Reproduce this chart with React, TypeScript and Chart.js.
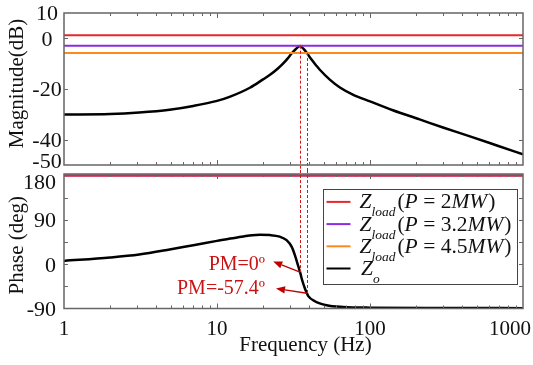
import { useEffect, useRef } from "react";
import { Chart, registerables } from "chart.js";

Chart.register(...registerables);

// ---------------- data ----------------
const magFreqHz = [1, 2, 3.1, 4.9, 7, 10, 12.2, 16.4, 20, 22.2, 25, 27.1, 29, 30.8, 32.5, 34.9, 36.8, 38.7, 41, 44.8, 47, 54.6, 63.6, 77.8, 100, 141, 211, 300, 450, 675, 1000];
const magDb = [-30.1, -29.9, -29.3, -28.2, -26.7, -24.7, -23.0, -19.5, -16.2, -14.4, -11.9, -9.9, -7.9, -5.9, -4.4, -3.0, -4.2, -5.8, -8.0, -10.9, -12.4, -16.3, -19.4, -22.3, -24.9, -28.4, -32.0, -35.2, -38.7, -42.3, -45.8];
const phaseFreqHz = [1, 2, 3.1, 4.9, 7, 10, 12.2, 14.9, 17, 19.1, 22.2, 25.7, 28.5, 30.8, 32.4, 34, 34.9, 35.8, 37.6, 38.7, 39.5, 43.6, 52, 66.6, 100, 300, 1000];
const phaseDeg = [6.7, 13.6, 19.7, 29.9, 38.7, 47.4, 52.3, 56.5, 59.0, 59.8, 59.2, 56.0, 48.9, 35.2, 17, -4.6, -16, -29.5, -49.8, -59, -64.8, -75.3, -83.3, -86.8, -88.3, -89, -89.3];
const loadPowerMW = ["2", "3.2", "4.5"];
const loadMagDb = [1.2, -2.9, -5.8];
const loadPhaseDeg = [180, 180, 180];

const freqMin = 1;
const freqMax = 1000;
const magMin = -50;
const magMax = 10;
const phaseMin = -90;
const phaseMax = 183.3;

const freqTickLabels = [1, 10, 100, 1000];
const magTickLabels = [10, 0, -20, -40, -50];
const magTickMarks = [0, -20, -40];
const phaseTickLabels = [180, 90, 0, -90];
const phaseTickMarks = [135, 90, 45, 0, -45];

const crossFreqHz = [34.9, 38.7];
const crossMagDb = [-2.9, -5.8];
const crossPhaseDeg = [-16, -59];
const pmTexts = ["PM=0º", "PM=-57.4º"];
const pmTextFreqHz = [20.6, 20.6];
const pmTextDeg = [1.4, -46];
const pmHeadFreqHz = [23.3, 24.3];
const pmHeadDeg = [5.3, -49.3];

// ---------------- styles ----------------
const loadColors = ["#e8262b", "#8b2be2", "#ff8a1c"];
const SERIF = "'Liberation Serif', 'Times New Roman', serif";
const FRAME = "#666666";
const RED = "#c81414";
const DASH_RED = "#d01818";

type Seg = { t: string; it?: boolean; size: number; dx?: number; dy?: number };

function drawRich(ctx: CanvasRenderingContext2D, x: number, baseline: number, segs: Seg[]) {
  let cx = x;
  for (const s of segs) {
    ctx.font = `${s.it ? "italic " : ""}${s.size}px ${SERIF}`;
    cx += s.dx || 0;
    ctx.fillText(s.t, cx, baseline + (s.dy || 0));
    cx += ctx.measureText(s.t).width;
  }
}

function drawFrameTicks(chart: any, yMarks: number[]) {
  const ctx = chart.ctx as CanvasRenderingContext2D;
  const { left, right, top, bottom } = chart.chartArea;
  const xs = chart.scales.x;
  const ys = chart.scales.y;
  ctx.save();
  ctx.strokeStyle = FRAME;
  ctx.lineWidth = 1;
  ctx.setLineDash([]);
  ctx.beginPath();
  for (let d = 1; d < freqMax; d *= 10) {
    for (let m = 1; m <= 9; m++) {
      const f = m * d;
      if (f <= freqMin || f >= freqMax) continue;
      const px = Math.round(xs.getPixelForValue(f)) + 0.5;
      const len = m === 1 ? 5 : 3;
      ctx.moveTo(px, top);
      ctx.lineTo(px, top + len);
      ctx.moveTo(px, bottom);
      ctx.lineTo(px, bottom - len);
    }
  }
  yMarks.forEach((v) => {
    const py = Math.round(ys.getPixelForValue(v)) + 0.5;
    ctx.moveTo(left, py);
    ctx.lineTo(left + 4, py);
    ctx.moveTo(right, py);
    ctx.lineTo(right - 4, py);
  });
  ctx.stroke();
  ctx.lineWidth = 1.5;
  ctx.strokeRect(left, top, right - left, bottom - top);
  ctx.restore();
}

const magDecor = {
  id: "magDecor",
  afterDraw(chart: any) {
    const ctx = chart.ctx as CanvasRenderingContext2D;
    const { left, top, bottom } = chart.chartArea;
    const xs = chart.scales.x;
    const ys = chart.scales.y;
    ctx.save();
    ctx.strokeStyle = DASH_RED;
    ctx.lineWidth = 1;
    ctx.setLineDash([3, 2]);
    crossFreqHz.forEach((f, i) => {
      const px = Math.round(xs.getPixelForValue(f)) + 0.5;
      ctx.beginPath();
      ctx.moveTo(px, ys.getPixelForValue(crossMagDb[i]));
      ctx.lineTo(px, bottom + 5);
      ctx.stroke();
    });
    ctx.setLineDash([]);
    ctx.restore();

    drawFrameTicks(chart, magTickMarks);

    ctx.save();
    ctx.fillStyle = "#111";
    ctx.font = `22px ${SERIF}`;
    ctx.textAlign = "center";
    ctx.textBaseline = "alphabetic";
    magTickLabels.forEach((v) => {
      let py = ys.getPixelForValue(v);
      if (py > bottom - 2) py = bottom - 4;
      ctx.fillText(String(v), left - 17, py + 7.3);
    });
    ctx.font = `21px ${SERIF}`;
    ctx.textBaseline = "middle";
    ctx.translate(17, (top + bottom) / 2 - 5.5);
    ctx.rotate(-Math.PI / 2);
    ctx.fillText("Magnitude(dB)", 0, 0);
    ctx.restore();
  },
};

const phaseDecor = {
  id: "phaseDecor",
  afterDraw(chart: any) {
    const ctx = chart.ctx as CanvasRenderingContext2D;
    const { left, right, top, bottom } = chart.chartArea;
    const xs = chart.scales.x;
    const ys = chart.scales.y;
    ctx.save();
    ctx.strokeStyle = DASH_RED;
    ctx.lineWidth = 1;
    ctx.setLineDash([3, 2]);
    crossFreqHz.forEach((f, i) => {
      const px = Math.round(xs.getPixelForValue(f)) + 0.5;
      ctx.beginPath();
      ctx.moveTo(px, top - 4);
      ctx.lineTo(px, ys.getPixelForValue(crossPhaseDeg[i]));
      ctx.stroke();
    });
    ctx.setLineDash([]);

    // PM arrows
    ctx.strokeStyle = "#c00000";
    ctx.fillStyle = "#c00000";
    ctx.lineWidth = 1.3;
    crossFreqHz.forEach((f, i) => {
      const x0 = xs.getPixelForValue(f);
      const y0 = ys.getPixelForValue(crossPhaseDeg[i]);
      const x1 = xs.getPixelForValue(pmHeadFreqHz[i]);
      const y1 = ys.getPixelForValue(pmHeadDeg[i]);
      const ang = Math.atan2(y1 - y0, x1 - x0);
      const hl = 9;
      const hw = 3.6;
      const bx = x1 - hl * Math.cos(ang);
      const by = y1 - hl * Math.sin(ang);
      ctx.beginPath();
      ctx.moveTo(x0, y0);
      ctx.lineTo(bx, by);
      ctx.stroke();
      ctx.beginPath();
      ctx.moveTo(x1, y1);
      ctx.lineTo(bx + hw * Math.sin(ang), by - hw * Math.cos(ang));
      ctx.lineTo(bx - hw * Math.sin(ang), by + hw * Math.cos(ang));
      ctx.closePath();
      ctx.fill();
    });

    // PM texts
    ctx.fillStyle = RED;
    ctx.font = `20px ${SERIF}`;
    ctx.textAlign = "right";
    ctx.textBaseline = "alphabetic";
    pmTexts.forEach((t, i) => {
      ctx.fillText(t, xs.getPixelForValue(pmTextFreqHz[i]), ys.getPixelForValue(pmTextDeg[i]) + 6.8);
    });
    ctx.restore();

    drawFrameTicks(chart, phaseTickMarks);

    // Legend
    ctx.save();
    const boxW = 194;
    const boxH = 95;
    const bx = right - 6 - boxW;
    const by = top + 14.5;
    ctx.fillStyle = "#ffffff";
    ctx.fillRect(bx, by, boxW, boxH);
    ctx.strokeStyle = "#444";
    ctx.lineWidth = 1;
    ctx.strokeRect(Math.round(bx) + 0.5, Math.round(by) + 0.5, boxW, boxH);
    const rowY = (k: number) => by + 13.4 + k * 22.2;
    const legendColors = [...loadColors, "#000000"];
    legendColors.forEach((c, k) => {
      ctx.strokeStyle = c;
      ctx.lineWidth = 2;
      ctx.beginPath();
      ctx.moveTo(bx + 3.5, rowY(k));
      ctx.lineTo(bx + 27.5, rowY(k));
      ctx.stroke();
    });
    ctx.fillStyle = "#111";
    ctx.textAlign = "left";
    ctx.textBaseline = "alphabetic";
    loadPowerMW.forEach((p, k) => {
      drawRich(ctx, bx + 36.5, rowY(k) + 6.5, [
        { t: "Z", it: true, size: 21.5 },
        { t: "load", it: true, size: 13.5, dy: 8 },
        { t: "(", size: 21.5, dx: 2 },
        { t: "P", it: true, size: 21.5 },
        { t: " = ", size: 21.5 },
        { t: p, size: 21.5 },
        { t: "MW", it: true, size: 21.5 },
        { t: ")", size: 21.5, dx: 1 },
      ]);
    });
    drawRich(ctx, bx + 38, rowY(3) + 6.5, [
      { t: "Z", it: true, size: 21.5 },
      { t: "o", it: true, size: 13.5, dy: 8 },
    ]);

    // Y tick labels
    ctx.fillStyle = "#111";
    ctx.font = `22px ${SERIF}`;
    ctx.textAlign = "right";
    phaseTickLabels.forEach((v) => {
      let py = ys.getPixelForValue(v);
      if (py < top + 6) py = top + 8;
      ctx.fillText(String(v), left - 8, py + 7.3);
    });
    // X tick labels
    ctx.font = `21px ${SERIF}`;
    ctx.textAlign = "center";
    freqTickLabels.forEach((v) => {
      const s = String(v);
      const w = ctx.measureText(s).width;
      let px = xs.getPixelForValue(v);
      px = Math.min(px, chart.width - 2 - w / 2);
      ctx.fillText(s, px, bottom + 26);
    });
    // titles
    ctx.textBaseline = "middle";
    ctx.fillText("Frequency (Hz)", (left + right) / 2 + 12, bottom + 37);
    ctx.translate(17.5, (top + bottom) / 2 + 4);
    ctx.rotate(-Math.PI / 2);
    ctx.fillText("Phase (deg)", 0, 0);
    ctx.restore();
  },
};

function pts(xs: number[], ys: number[]) {
  return xs.map((x, i) => ({ x, y: ys[i] }));
}

function baseOptions(padding: any, yMin: number, yMax: number) {
  return {
    responsive: false,
    maintainAspectRatio: false,
    animation: false as const,
    devicePixelRatio: 1,
    layout: { padding },
    plugins: { legend: { display: false }, tooltip: { enabled: false } },
    elements: { point: { radius: 0 } },
    scales: {
      x: { type: "logarithmic" as const, min: freqMin, max: freqMax, display: false },
      y: { type: "linear" as const, min: yMin, max: yMax, display: false },
    },
  };
}

export default function App() {
  const magRef = useRef<HTMLCanvasElement>(null);
  const phRef = useRef<HTMLCanvasElement>(null);

  useEffect(() => {
    const loadSets = (vals: number[]) =>
      loadPowerMW.map((p, k) => ({
        label: `Zload (P = ${p}MW)`,
        data: [
          { x: freqMin, y: vals[k] },
          { x: freqMax, y: vals[k] },
        ],
        borderColor: loadColors[k],
        borderWidth: 2,
        pointRadius: 0,
      }));

    const c1 = new Chart(magRef.current as HTMLCanvasElement, {
      type: "line",
      data: {
        datasets: [
          ...loadSets(loadMagDb),
          {
            label: "Zo",
            data: pts(magFreqHz, magDb),
            borderColor: "#000000",
            borderWidth: 2.5,
            pointRadius: 0,
            cubicInterpolationMode: "monotone",
          },
        ],
      },
      options: baseOptions({ left: 64, right: 10, top: 13, bottom: 15 }, magMin, magMax) as any,
      plugins: [magDecor],
    });

    const c2 = new Chart(phRef.current as HTMLCanvasElement, {
      type: "line",
      data: {
        datasets: [
          ...loadSets(loadPhaseDeg),
          {
            label: "Zo",
            data: pts(phaseFreqHz, phaseDeg),
            borderColor: "#000000",
            borderWidth: 2.5,
            pointRadius: 0,
            cubicInterpolationMode: "monotone",
          },
        ],
      },
      options: baseOptions({ left: 64, right: 10, top: 9, bottom: 56.5 }, phaseMin, phaseMax) as any,
      plugins: [phaseDecor],
    });

    return () => {
      c1.destroy();
      c2.destroy();
    };
  }, []);

  return (
    <div style={{ position: "fixed", left: 0, top: 0, width: 533, height: 365, background: "#ffffff" }}>
      <canvas ref={magRef} width={533} height={180} style={{ position: "absolute", left: 0, top: 0, width: 533, height: 180 }} />
      <canvas ref={phRef} width={533} height={200} style={{ position: "absolute", left: 0, top: 165, width: 533, height: 200 }} />
    </div>
  );
}
